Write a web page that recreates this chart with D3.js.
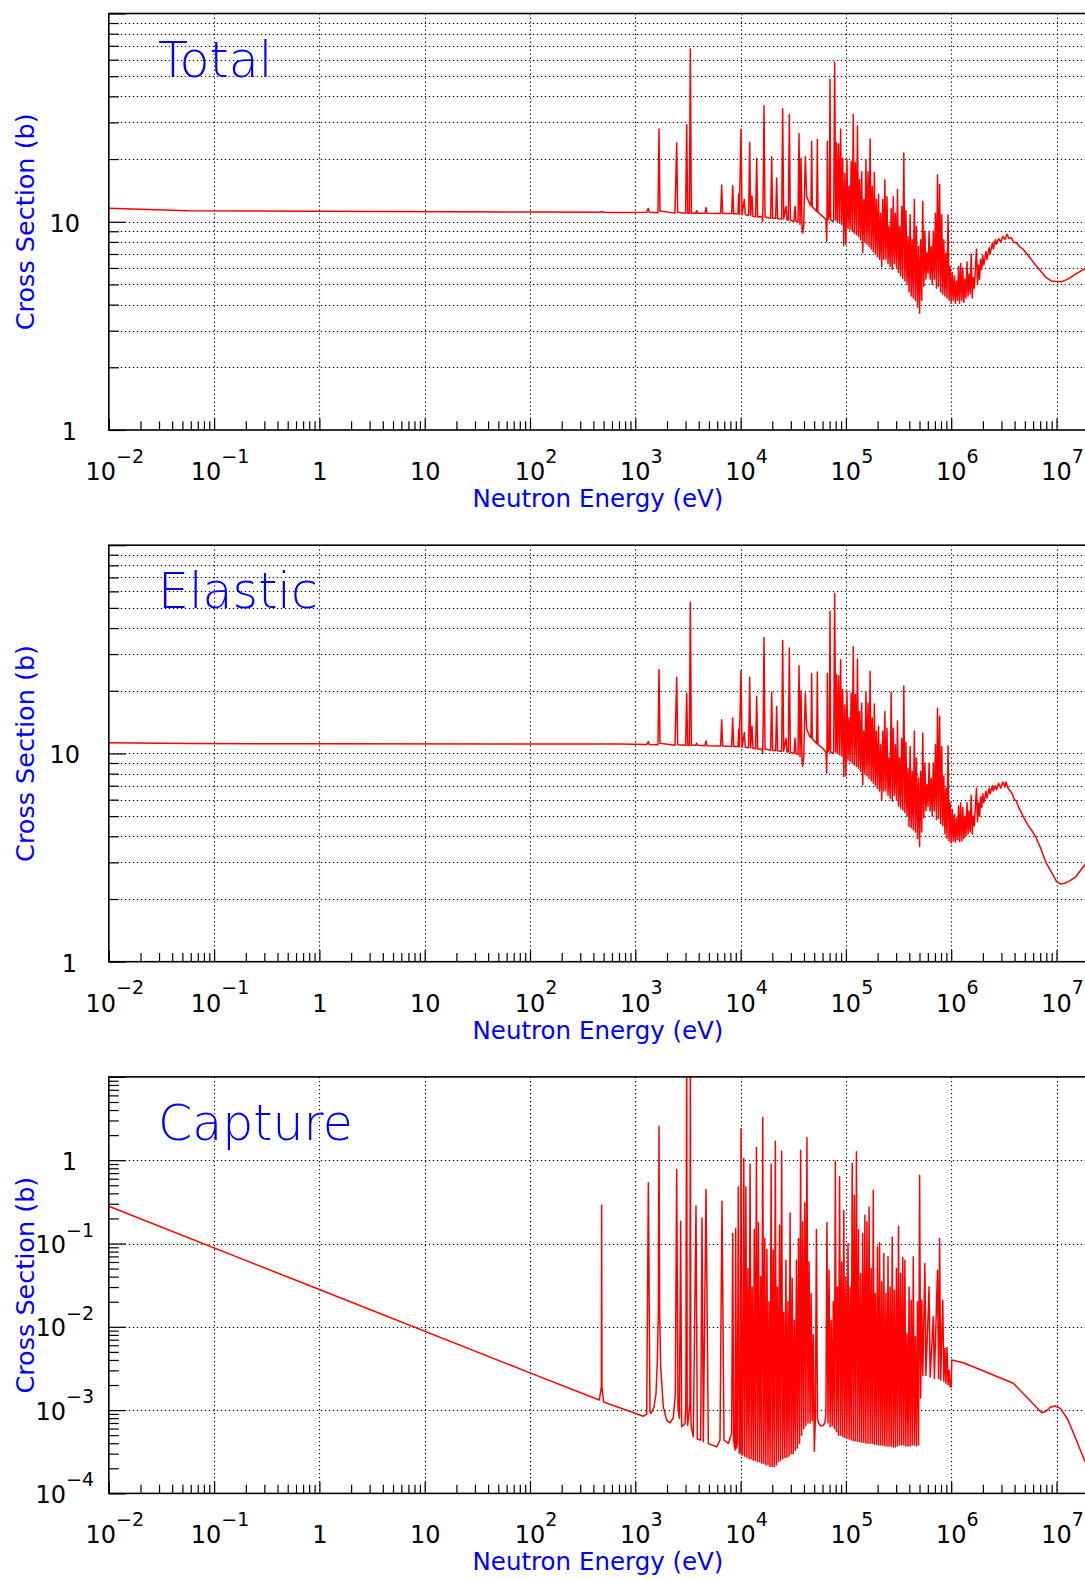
<!DOCTYPE html>
<html><head><meta charset="utf-8">
<script src="https://cdn.jsdelivr.net/npm/d3@7/dist/d3.min.js"></script>
<style>body{margin:0;background:#fff}svg{display:block}</style>
</head><body>
<svg id="chart" width="1085" height="1579"></svg>
<script>
// ---------- data (energy in eV, cross section in barns) ----------
const panelTitles = ["Total", "Elastic", "Capture"];
const xAxisTitle = "Neutron Energy (eV)";
const yAxisTitle = "Cross Section (b)";
const xDomain = [1e-2, 2e7];
const xTickValues = [1e-2, 1e-1, 1, 10, 1e2, 1e3, 1e4, 1e5, 1e6, 1e7];
const xTickLabels = [["10","\u22122"],["10","\u22121"],["1",""],["10",""],["10","2"],["10","3"],["10","4"],["10","5"],["10","6"],["10","7"]];
const yTickValuesLin = [1, 10];
const yTickLabelsLin = [["1",""],["10",""]];
const yTickValuesCap = [1e-4, 1e-3, 1e-2, 1e-1, 1];
const yTickLabelsCap = [["10","\u22124"],["10","\u22123"],["10","\u22122"],["10","\u22121"],["1",""]];

const totalData = [
[0.01,11.6],[0.0565,11.3],[1,11.23],[100,11.13],[470,11.11],[485,11.2],[500,11.1],[716,11.09],
[1282,11.1],[1330,11.6],[1358,11.1],[1643,11.05],[1680,27.9],[1716,11.25],
[2382,11.0],[2472,23.9],[2526,11.1],[3008,11.0],[3075,29.2],[3143,11.0],
[3260,11.0],[3332,67.6],[3405,11.0],[3743,11.0],[3826,11.3],[3911,11.0],
[4591,11.0],[4693,11.7],[4797,11.0],[6466,10.95],[6610,15.0],[6755,10.95],
[8228,10.95],[8410,14.9],[8594,10.9],[9447,10.95],[9588,13.6],[9727,10.85],[10090,27.7],[10310,10.8],[10850,12.8],[11090,10.8],
[11930,10.75],[12200,24.1],[12460,10.75],[12840,13.3],[13120,10.6],[13900,10.6],[14210,20.2],[14530,10.55],
[15970,10.6],[16200,10.05],[16440,16.2],[16690,36.1],[17050,10.55],[19300,10.4],[19730,20.5],[20160,10.4],
[21530,10.4],[22000,16.2],[22490,10.35],[24550,10.3],[25090,34.9],[25650,10.3],[26990,11.85],[27590,10.2],
[28400,10.2],[29030,32.7],[29680,10.15],[32140,10.05],[32860,11.85],[33590,10.05],
[35090,9.95],[35860,26.5],[36660,9.7],[37470,20.2],[38300,9.3],[38860,8.82],[39720,9.5],
[41190,20.5],[42410,13.2],[45610,12.1],[46620,11.95],[47300,24.3],[47990,11.8],
[52770,11.2],[53550,24.8],[54330,11.1],[61050,10.55],[64710,10.2],[65680,8.04],[66130,10.2],[66640,24.3],[67620,10.2],
[69620,10.6],[70630,48.5],[71670,10.2],[74870,10.05],[76530,10.2],[78240,58.3],[79950,10.2],
[8.128e4,24.0],[8.318e4,10.0],[8.511e4,23.6],[8.710e4,9.85],[8.913e4,27.9],[9.120e4,9.7],[9.333e4,20.2],[9.550e4,7.7],[9.772e4,17.1],[1.0e5,7.8],
[1.023e5,19.9],[1.047e5,9.3],[1.072e5,14.8],[1.096e5,9.15],[1.122e5,19.5],[1.148e5,9.0],[1.175e5,32.7],[1.202e5,8.8],[1.230e5,19.2],[1.259e5,8.65],
[1.288e5,28.9],[1.318e5,8.5],[1.349e5,15.9],[1.380e5,8.2],[1.413e5,17.4],[1.445e5,7.1],[1.479e5,12.8],[1.514e5,8.0],[1.549e5,19.8],[1.585e5,7.8],
[1.622e5,17.4],[1.660e5,7.6],[1.698e5,25.0],[1.738e5,7.4],[1.778e5,14.8],[1.820e5,7.2],[1.862e5,17.3],[1.905e5,7.0],[1.950e5,12.8],[1.995e5,6.8],
[2.042e5,13.5],[2.089e5,6.6],[2.138e5,11.0],[2.188e5,6.1],[2.239e5,12.8],[2.291e5,6.6],[2.344e5,15.9],[2.399e5,6.6],[2.455e5,13.2],[2.512e5,6.3],
[2.570e5,9.5],[2.630e5,6.1],[2.692e5,11.6],[2.754e5,5.9],[2.818e5,13.2],[2.884e5,6.3],[2.951e5,11.0],[3.020e5,6.0],[3.090e5,14.3],[3.162e5,5.7],
[3.236e5,9.5],[3.311e5,5.5],[3.388e5,11.85],[3.467e5,5.35],[3.548e5,21.4],[3.631e5,5.2],[3.715e5,11.3],[3.802e5,5.0],[3.890e5,8.5],[3.981e5,4.6],
[4.074e5,10.8],[4.169e5,4.4],[4.266e5,8.2],[4.365e5,4.3],[4.467e5,12.8],[4.571e5,4.2],[4.677e5,9.5],[4.786e5,3.9],[4.898e5,7.6],[5.012e5,3.64],
[5.129e5,8.2],[5.248e5,4.2],[5.370e5,12.5],[5.495e5,4.9],[5.623e5,9.0],[5.754e5,5.3],[5.888e5,7.1],[6.026e5,5.66],[6.166e5,9.0],[6.310e5,5.3],
[6.457e5,7.6],[6.607e5,5.0],[6.761e5,9.0],[6.918e5,5.3],[7.079e5,11.0],[7.244e5,4.8],[7.413e5,16.8],[7.586e5,4.9],[7.762e5,15.1],[7.943e5,4.6],
[8.128e5,10.8],[8.318e5,4.5],[8.511e5,8.2],[8.710e5,4.4],[8.913e5,7.1],[9.120e5,4.3],[9.333e5,10.8],[9.550e5,4.2],[9.772e5,6.1],[1.0e6,4.06],
[1.023e6,5.7],[1.047e6,4.2],[1.072e6,5.5],[1.096e6,4.06],[1.122e6,5.2],[1.148e6,4.2],[1.175e6,6.1],[1.202e6,4.06],[1.230e6,6.3],[1.259e6,4.2],
[1.288e6,6.0],[1.318e6,4.1],[1.349e6,5.3],[1.380e6,4.3],[1.413e6,6.4],[1.445e6,4.4],[1.479e6,5.6],[1.514e6,4.5],[1.549e6,7.0],[1.585e6,4.3],
[1.622e6,5.4],[1.660e6,4.8],[1.698e6,6.0],[1.738e6,7.4],[1.778e6,5.0],[1.820e6,6.2],[1.862e6,5.3],[1.905e6,6.6],[1.950e6,5.9],[1.995e6,6.9],
[2.042e6,6.2],[2.138e6,7.2],[2.188e6,6.6],[2.291e6,7.5],[2.344e6,7.0],[2.455e6,7.9],[2.512e6,7.4],[2.630e6,8.2],[2.692e6,7.8],[2.818e6,8.3],
[2.951e6,8.0],[3.090e6,8.5],[3.236e6,8.2],[3.388e6,8.7],[3.548e6,8.3],[3.715e6,8.4],[3.890e6,8.0],[4.169e6,7.9],[4.467e6,7.6],[4.786e6,7.4],
[5.248e6,7.0],[5.754e6,6.6],[6.310e6,6.2],[7.079e6,5.8],[7.943e6,5.4],[8.913e6,5.2],[1.0e7,5.17],[1.148e7,5.17],[1.318e7,5.35],[1.514e7,5.6],[1.862e7,5.95],[2.0e7,6.0]
];

const elasticData = [
[0.01,11.25],[0.0565,11.15],[1,11.12],[100,11.1],[470,11.09],[485,11.15],[500,11.09],[716,11.09],
[1282,11.05],[1330,11.4],[1358,11.05],[1643,11.0],[1680,25.3],[1716,11.2],
[2382,10.95],[2472,23.2],[2526,11.0],[3008,10.95],[3075,19.5],[3143,10.95],
[3260,10.95],[3332,53.2],[3405,10.95],[3743,10.95],[3826,11.2],[3911,10.95],
[4591,10.9],[4693,11.5],[4797,10.9],[6466,10.85],[6610,14.5],[6755,10.85],
[8228,10.8],[8410,14.8],[8594,10.8],[9447,10.8],[9588,13.1],[9727,10.75],[10090,25.0],[10310,10.7],[10850,12.6],[11090,10.7],
[11930,10.65],[12200,23.2],[12460,10.65],[12840,13.5],[13120,10.55],[13900,10.55],[14210,18.8],[14530,10.5],
[15970,10.5],[16200,10.0],[16440,16.0],[16690,36.0],[17050,10.5],[19300,10.35],[19730,19.7],[20160,10.35],
[21530,10.3],[22000,16.8],[22490,10.3],[24550,10.25],[25090,34.9],[25650,10.25],[26990,11.8],[27590,10.15],
[28400,10.15],[29030,32.1],[29680,10.1],[32140,10.0],[32860,11.8],[33590,10.0],
[35090,9.9],[35860,26.4],[36660,9.65],[37470,20.0],[38300,9.25],[38860,8.66],[39720,9.45],
[41190,19.5],[42410,13.1],[45610,12.0],[46620,11.9],[47300,24.2],[47990,11.75],
[52770,11.15],[53550,24.6],[54330,11.05],[61050,10.5],[64710,10.15],[65680,8.05],[66130,10.15],[66640,24.2],[67620,10.15],
[69620,10.55],[70630,48.2],[71670,10.15],[74870,10.0],[76530,10.15],[78240,58.6],[79950,10.15],
[8.128e4,24.0],[8.318e4,10.0],[8.511e4,23.6],[8.710e4,9.85],[8.913e4,28.2],[9.120e4,9.7],[9.333e4,20.2],[9.550e4,7.76],[9.772e4,17.1],[1.0e5,7.8],
[1.023e5,19.9],[1.047e5,9.3],[1.072e5,14.8],[1.096e5,9.15],[1.122e5,19.5],[1.148e5,9.0],[1.175e5,32.5],[1.202e5,8.8],[1.230e5,19.2],[1.259e5,8.65],
[1.288e5,28.4],[1.318e5,8.5],[1.349e5,15.9],[1.380e5,8.2],[1.413e5,17.4],[1.445e5,7.06],[1.479e5,12.8],[1.514e5,8.0],[1.549e5,19.8],[1.585e5,7.8],
[1.622e5,17.4],[1.660e5,7.6],[1.698e5,24.8],[1.738e5,7.4],[1.778e5,14.8],[1.820e5,7.2],[1.862e5,17.3],[1.905e5,7.0],[1.950e5,12.8],[1.995e5,6.8],
[2.042e5,13.5],[2.089e5,6.6],[2.138e5,11.0],[2.188e5,5.98],[2.239e5,12.8],[2.291e5,6.6],[2.344e5,15.9],[2.399e5,6.6],[2.455e5,13.2],[2.512e5,6.3],
[2.570e5,9.5],[2.630e5,6.1],[2.692e5,19.7],[2.754e5,5.9],[2.818e5,13.2],[2.884e5,6.3],[2.951e5,11.0],[3.020e5,6.0],[3.090e5,14.3],[3.162e5,5.6],
[3.236e5,9.5],[3.311e5,5.45],[3.388e5,11.8],[3.467e5,5.35],[3.548e5,21.1],[3.631e5,5.2],[3.715e5,11.3],[3.802e5,5.0],[3.890e5,8.5],[3.981e5,4.46],
[4.074e5,10.8],[4.169e5,4.4],[4.266e5,8.2],[4.365e5,4.3],[4.467e5,12.8],[4.571e5,4.2],[4.677e5,9.5],[4.786e5,3.9],[4.898e5,7.6],[5.012e5,3.57],
[5.129e5,8.2],[5.248e5,4.2],[5.370e5,12.5],[5.495e5,4.9],[5.623e5,9.0],[5.754e5,5.3],[5.888e5,7.1],[6.026e5,5.56],[6.166e5,9.0],[6.310e5,5.3],
[6.457e5,7.6],[6.607e5,5.0],[6.761e5,9.0],[6.918e5,5.3],[7.079e5,11.0],[7.244e5,4.8],[7.413e5,16.5],[7.586e5,4.89],[7.762e5,15.1],[7.943e5,4.6],
[8.128e5,10.8],[8.318e5,4.5],[8.511e5,7.8],[8.710e5,4.1],[8.913e5,6.8],[9.120e5,3.9],[9.333e5,10.9],[9.550e5,3.8],[9.772e5,5.8],[1.0e6,3.71],
[1.023e6,5.4],[1.047e6,3.8],[1.072e6,5.1],[1.096e6,3.75],[1.122e6,4.9],[1.148e6,3.85],[1.175e6,5.6],[1.202e6,3.78],[1.230e6,5.8],[1.259e6,3.8],
[1.288e6,5.5],[1.318e6,3.9],[1.349e6,5.0],[1.380e6,4.0],[1.413e6,5.8],[1.445e6,4.1],[1.479e6,5.3],[1.514e6,4.2],[1.549e6,6.3],[1.585e6,4.1],
[1.622e6,5.0],[1.660e6,4.5],[1.698e6,5.6],[1.738e6,6.8],[1.778e6,4.7],[1.820e6,5.8],[1.862e6,5.0],[1.905e6,6.2],[1.950e6,5.5],[1.995e6,6.4],
[2.042e6,5.8],[2.138e6,6.6],[2.188e6,6.1],[2.291e6,6.8],[2.344e6,6.4],[2.455e6,7.0],[2.512e6,6.6],[2.630e6,7.0],[2.692e6,6.7],[2.818e6,7.2],
[2.951e6,6.8],[3.090e6,7.3],[3.236e6,6.9],[3.311e6,7.3],[3.467e6,6.8],[3.631e6,6.6],[3.802e6,6.4],[3.981e6,6.0],[4.169e6,5.9],[4.365e6,5.5],
[4.571e6,5.3],[4.898e6,4.9],[5.248e6,4.6],[5.754e6,4.3],[6.310e6,4.0],[7.079e6,3.5],[7.943e6,3.0],[8.913e6,2.7],[1.0e7,2.43],[1.096e7,2.36],
[1.202e7,2.38],[1.349e7,2.45],[1.514e7,2.55],[1.862e7,2.92],[2.0e7,3.0]
];

const captureData = [
[0.01,0.28],[1,0.028],[100,0.0028],[455,0.00132],[476,0.0019],[479,0.288],[482,0.0019],[500,0.00125],
[1192,0.000845],[1283,0.000893],[1330,0.535],[1379,0.000953],[1409,0.00091],
[1505,0.00109],[1573,0.00158],[1619,0.00397],[1655,0.01445],[1680,2.56],[1704,0.0145],[1741,0.0033],[1846,0.00109],
[1986,0.000757],[2136,0.000703],[2297,0.00081],[2400,0.00158],[2471,0.773],[2544,0.00109],[2620,0.0008],[2697,0.185],[2756,0.00063],
[2965,0.00069],[3020,0.0012],[3075,40],[3110,0.0009],[3143,0.00066],[3300,0.0012],[3332,40],[3370,0.0008],[3404,0.00063],
[3556,0.000478],[3771,0.281],[3882,0.00045],[4175,0.000436],[4299,0.203],[4426,0.000416],[4693,0.445],[4939,0.000397],
[5925,0.000362],[6374,0.000436],[6659,0.322],[6956,0.000436],[7645,0.000397],[8228,0.000524],[8410,0.132],[8594,0.000436],
[8851,0.00033],[8985,0.15],[9150,0.00035],[9311,0.000397],[9517,0.479],[9727,0.000301],[9943,0.000316],[10090,2.40],[10310,0.000288],
[1.047e4,0.0003],[1.072e4,1.05],[1.096e4,0.00028],[1.122e4,0.479],[1.148e4,0.00027],[1.175e4,0.05],[1.202e4,0.00026],[1.230e4,0.895],[1.259e4,0.00026],
[1.288e4,0.03],[1.318e4,0.00025],[1.349e4,0.147],[1.380e4,0.00025],[1.413e4,1.42],[1.445e4,0.00024],[1.479e4,0.177],[1.514e4,0.00024],[1.549e4,0.04],
[1.585e4,0.00023],[1.622e4,3.25],[1.660e4,0.00023],[1.698e4,0.115],[1.738e4,0.00022],[1.778e4,0.0847],[1.820e4,0.00022],[1.862e4,0.02],[1.905e4,0.00021],
[1.950e4,0.895],[1.995e4,0.00021],[2.042e4,0.0832],[2.089e4,0.00021],[2.138e4,1.69],[2.188e4,0.00022],[2.239e4,0.03],[2.291e4,0.00024],[2.344e4,0.166],
[2.399e4,0.00025],[2.455e4,1.28],[2.512e4,0.00026],[2.570e4,0.015],[2.630e4,0.00027],[2.692e4,0.0631],[2.754e4,0.00027],[2.818e4,0.02],[2.884e4,0.00028],
[2.951e4,0.233],[3.020e4,0.0003],[3.090e4,0.038],[3.162e4,0.0003],[3.236e4,0.012],[3.311e4,0.00033],[3.388e4,0.0631],[3.467e4,0.00035],[3.548e4,0.115],
[3.631e4,0.0004],[3.715e4,1.32],[3.802e4,0.0005],[3.890e4,0.182],[3.981e4,0.0006],[4.074e4,0.308],[4.169e4,0.00065],[4.266e4,1.87],[4.365e4,0.0007],
[4.467e4,0.0603],[4.571e4,0.0007],[4.677e4,0.0251],[4.786e4,0.00075],[4.898e4,0.008],[5.012e4,0.00032],[5.129e4,0.0008],[5.248e4,0.147],[5.370e4,0.0008],
[5.495e4,0.0007],[5.754e4,0.00065],[6.026e4,0.00065],[6.310e4,0.0007],[6.457e4,0.0009],
[6.607e4,0.179],[6.761e4,0.0007],[6.918e4,0.048],[7.079e4,0.00063],[7.244e4,0.012],[7.413e4,0.00065],[7.586e4,0.02],[7.762e4,0.0006],[7.943e4,0.973],
[8.128e4,0.00055],[8.318e4,0.03],[8.511e4,0.0005],[8.710e4,0.631],[8.913e4,0.0005],[9.120e4,0.06],[9.333e4,0.00048],[9.550e4,0.251],[9.772e4,0.00047],
[1.0e5,0.04],[1.023e5,0.00046],[1.047e5,0.1],[1.072e5,0.00045],[1.096e5,0.03],[1.122e5,0.00044],[1.148e5,0.912],[1.175e5,0.00043],[1.202e5,0.38],
[1.230e5,0.00043],[1.259e5,1.26],[1.288e5,0.00042],[1.318e5,0.147],[1.349e5,0.00042],[1.380e5,0.0437],[1.413e5,0.00041],[1.445e5,0.132],[1.479e5,0.00041],
[1.514e5,0.219],[1.549e5,0.0004],[1.585e5,0.182],[1.622e5,0.0004],[1.660e5,0.275],[1.698e5,0.0004],[1.738e5,0.05],[1.778e5,0.0004],[1.820e5,0.436],
[1.862e5,0.00039],[1.905e5,0.0251],[1.950e5,0.00039],[1.995e5,0.0912],[2.042e5,0.00038],[2.089e5,0.102],[2.138e5,0.00038],[2.188e5,0.0347],[2.239e5,0.00038],
[2.291e5,0.0759],[2.344e5,0.00037],[2.399e5,0.0251],[2.455e5,0.00037],[2.512e5,0.0692],[2.570e5,0.00037],[2.630e5,0.03],[2.692e5,0.00037],[2.754e5,0.12],
[2.818e5,0.00036],[2.884e5,0.0275],[2.951e5,0.00036],[3.020e5,0.05],[3.090e5,0.00037],[3.162e5,0.161],[3.236e5,0.00038],[3.311e5,0.0437],[3.388e5,0.00038],
[3.467e5,0.068],[3.548e5,0.00038],[3.631e5,0.0631],[3.715e5,0.00037],[3.802e5,0.0083],[3.890e5,0.00037],[3.981e5,0.03],[4.074e5,0.00037],[4.169e5,0.0209],
[4.266e5,0.00038],[4.365e5,0.0692],[4.467e5,0.00038],[4.571e5,0.00757],[4.677e5,0.00037],[4.786e5,0.02],[4.898e5,0.00038],[5.012e5,0.661],[5.129e5,0.0014],
[5.248e5,0.0209],[5.370e5,0.0026],[5.623e5,0.0575],[5.754e5,0.0026],[6.166e5,0.0302],[6.310e5,0.0025],[6.761e5,0.0132],[6.918e5,0.0024],[7.413e5,0.0479],
[7.586e5,0.0024],[7.762e5,0.115],[7.943e5,0.0023],[8.318e5,0.0209],[8.511e5,0.0022],[8.710e5,0.0055],[8.913e5,0.0021],[9.120e5,0.0057],[9.333e5,0.002],
[9.550e5,0.003],[9.772e5,0.0019],[1.0e6,0.0019],[1.012e6,0.004],[1.303e6,0.0037],[3.890e6,0.0021],[7.244e6,0.00093],[7.943e6,0.00097],[8.710e6,0.00108],
[9.772e6,0.00112],[1.096e7,0.00104],[1.288e7,0.00076],[1.820e7,0.00026],[2.0e7,0.0002]
];

// ---------- layout ----------
const svg = d3.select("#chart");
const plotLeft = 108.8, plotRight = 1088.2;
const firstTop = 13.5, plotHeight = 416.5, panelStep = 531.7;
const blue = "#0000ff", red = "#ff0000";
const fontFam = "'DejaVu Sans', 'Liberation Sans', sans-serif";

const x = d3.scaleLog().domain(xDomain).range([plotLeft, plotRight]);
const px = v => Math.round(v) + 0.5;

function minorTicks(lo, hi) {
  const out = [];
  for (let e = Math.floor(Math.log10(lo)); e <= Math.ceil(Math.log10(hi)); e++) {
    for (let k = 2; k <= 9; k++) {
      const v = k * Math.pow(10, e);
      if (v > lo && v < hi) out.push(v);
    }
  }
  return out;
}
const xMinor = minorTicks(xDomain[0], xDomain[1]);
const xGrid = xTickValues.slice(1);

const panels = [
  {title: panelTitles[0], data: totalData, yDomain: [1, 100], yLabels: yTickValuesLin, yLabelText: yTickLabelsLin, denseGrid: true},
  {title: panelTitles[1], data: elasticData, yDomain: [1, 100], yLabels: yTickValuesLin, yLabelText: yTickLabelsLin, denseGrid: true},
  {title: panelTitles[2], data: captureData, yDomain: [1e-4, 10], yLabels: yTickValuesCap, yLabelText: yTickLabelsCap, denseGrid: false}
];

function addLabel(g, lx, ly, parts, anchor, base, sup, supRise) {
  const t = g.append("text").attr("x", lx).attr("y", ly)
    .attr("text-anchor", anchor).attr("font-family", fontFam)
    .attr("font-size", base).attr("fill", "#000");
  t.append("tspan").text(parts[0]);
  if (parts[1]) t.append("tspan").attr("dy", -supRise).attr("font-size", sup).text(parts[1]);
  return t;
}

panels.forEach((p, i) => {
  const top = firstTop + i * panelStep;
  const bottom = top + plotHeight;
  const y = d3.scaleLog().domain(p.yDomain).range([bottom, top]);
  const g = svg.append("g");

  const clipId = "clip" + i;
  svg.append("clipPath").attr("id", clipId).append("rect")
    .attr("x", plotLeft).attr("y", top).attr("width", plotRight - plotLeft).attr("height", plotHeight);

  // grid
  const yMajor = [];
  for (let e = Math.round(Math.log10(p.yDomain[0])); e <= Math.round(Math.log10(p.yDomain[1])); e++) yMajor.push(Math.pow(10, e));
  const yMinor = minorTicks(p.yDomain[0], p.yDomain[1]);
  const yGridVals = (p.denseGrid ? yMinor.concat(yMajor) : yMajor).filter(v => v > p.yDomain[0] && v < p.yDomain[1]);

  const grid = g.append("g").attr("stroke", "#000").attr("stroke-width", 1.2)
    .attr("stroke-dasharray", "1.3,2.7");
  grid.selectAll("line.v").data(xGrid).join("line").attr("class", "v")
    .attr("x1", d => px(x(d))).attr("x2", d => px(x(d))).attr("y1", top).attr("y2", bottom);
  grid.selectAll("line.h").data(yGridVals).join("line").attr("class", "h")
    .attr("x1", plotLeft).attr("x2", plotRight).attr("y1", d => px(y(d))).attr("y2", d => px(y(d)));

  // axes ticks (inward)
  const strip = s => { s.select(".domain").remove(); s.selectAll(".tick line").attr("stroke", "#000").attr("stroke-width", 1.2); };
  g.append("g").attr("transform", `translate(0,${bottom})`)
    .call(d3.axisBottom(x).tickValues(xMinor).tickSize(-8.7).tickFormat("")).call(strip);
  g.append("g").attr("transform", `translate(0,${bottom})`)
    .call(d3.axisBottom(x).tickValues(xTickValues).tickSize(-11.5).tickFormat("")).call(strip);
  g.append("g").attr("transform", `translate(${plotLeft},0)`)
    .call(d3.axisLeft(y).tickValues(yMinor).tickSize(-10).tickFormat("")).call(strip);
  g.append("g").attr("transform", `translate(${plotLeft},0)`)
    .call(d3.axisLeft(y).tickValues(yMajor).tickSize(-17).tickFormat("")).call(strip);

  // curve
  const line = d3.line().x(d => x(d[0])).y(d => y(d[1]));
  g.append("path").datum(p.data).attr("clip-path", `url(#${clipId})`)
    .attr("fill", "none").attr("stroke", red).attr("stroke-width", 1.5)
    .attr("stroke-linejoin", "round").attr("d", line);

  // frame
  g.append("rect").attr("x", plotLeft).attr("y", top).attr("width", plotRight - plotLeft).attr("height", plotHeight)
    .attr("fill", "none").attr("stroke", "#000").attr("stroke-width", 1.6);

  // x tick labels
  xTickValues.forEach((v, k) => {
    const parts = xTickLabels[k];
    const off = parts[1] ? 6 : 0.5;
    addLabel(g, x(v) + off, bottom + 50, parts, "middle", 24, 19, 17.4);
  });

  // y tick labels
  p.yLabels.forEach((v, k) => {
    const parts = p.yLabelText[k];
    if (parts[1]) addLabel(g, 94, y(v) + 9.5, parts, "end", 24, 19, 16.5);
    else addLabel(g, parts[0] === "1" ? 77 : 80, y(v) + 10, parts, "end", 24, 19, 16.5);
  });

  // axis titles
  g.append("text").attr("x", 598).attr("y", bottom + 77).attr("text-anchor", "middle")
    .attr("font-family", fontFam).attr("font-size", 24.5).attr("fill", blue).text(xAxisTitle);
  g.append("text").attr("transform", `translate(34,${(top + bottom) / 2}) rotate(-90)`).attr("text-anchor", "middle")
    .attr("font-family", fontFam).attr("font-size", 25.5).attr("fill", blue).text(yAxisTitle);

  // panel title
  g.append("text").attr("x", 158).attr("y", top + 63.2)
    .attr("font-family", fontFam).attr("font-weight", 200).attr("font-size", 49).attr("fill", blue).text(p.title);
});
</script>
</body></html>
